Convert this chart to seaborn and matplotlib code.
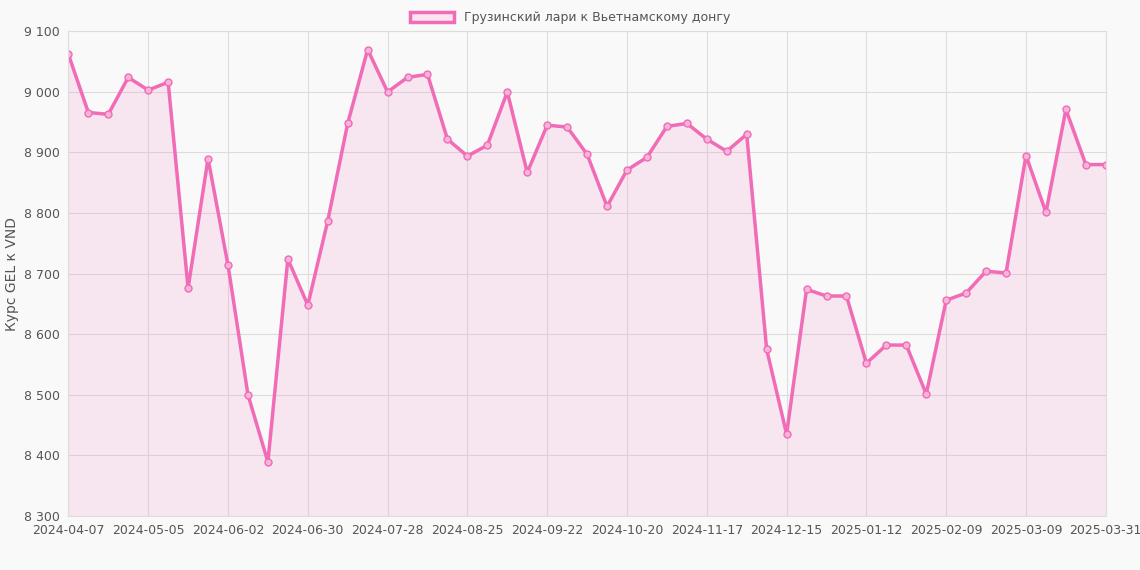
import matplotlib.pyplot as plt
import seaborn as sns
import pandas as pd
from matplotlib.patches import Patch

rates = [9062, 8966, 8963, 9024, 9003, 9016, 8676, 8890, 8714, 8500, 8389, 8724, 8648,
         8787, 8948, 9070, 9000, 9024, 9029, 8922, 8894, 8912, 9000, 8867, 8945, 8942,
         8897, 8811, 8871, 8892, 8943, 8948, 8922, 8902, 8930, 8575, 8435, 8674, 8663,
         8663, 8552, 8582, 8582, 8501, 8656, 8668, 8704, 8701, 8895, 8801, 8971, 8880, 8880]
tick_labels = ['2024-04-07', '2024-05-05', '2024-06-02', '2024-06-30', '2024-07-28',
               '2024-08-25', '2024-09-22', '2024-10-20', '2024-11-17', '2024-12-15',
               '2025-01-12', '2025-02-09', '2025-03-09', '2025-03-31']
tick_pos = [0, 4, 8, 12, 16, 20, 24, 28, 32, 36, 40, 44, 48, 52]

df = pd.DataFrame({'idx': range(len(rates)), 'rate': rates})
color = '#f06cb6'
bg = '#f9f9f9'

sns.set_style('white')
plt.rcParams['font.family'] = ['DejaVu Sans']
fig, ax = plt.subplots(figsize=(11.4, 5.7), dpi=100)
fig.patch.set_facecolor(bg)
ax.set_facecolor(bg)

ax.fill_between(df['idx'], df['rate'], 8300, color=color, alpha=0.13, lw=0)
sns.lineplot(data=df, x='idx', y='rate', ax=ax, color=color, lw=2.5,
             marker='o', markersize=5, markerfacecolor='#f7b3d9', markeredgecolor=color,
             markeredgewidth=1)

ax.set_xlim(0, 52)
ax.set_ylim(8300, 9100)
ax.set_xticks(tick_pos)
ax.set_xticklabels(tick_labels, fontsize=9, color='#555555')
yt = list(range(8300, 9101, 100))
ax.set_yticks(yt)
ax.set_yticklabels([f'{v:,}'.replace(',', ' ') for v in yt], fontsize=9, color='#555555')
ax.grid(True, color='#dddddd', lw=0.8)
ax.set_xlabel('')
ax.set_ylabel('Курс GEL к VND', fontsize=10, color='#555555')
for s in ax.spines.values():
    s.set_color('#dddddd')
ax.tick_params(length=0, pad=6)

handle = Patch(facecolor='#fbe3f0', edgecolor=color, lw=2.5)
fig.legend([handle], ['Грузинский лари к Вьетнамскому донгу'], loc='upper center',
           bbox_to_anchor=(0.5, 1.0), frameon=False, fontsize=9,
           handlelength=3.5, handleheight=0.9, labelcolor='#555555')

plt.subplots_adjust(left=0.06, right=0.97, top=0.945, bottom=0.095)
plt.savefig('out.png', facecolor=bg)
